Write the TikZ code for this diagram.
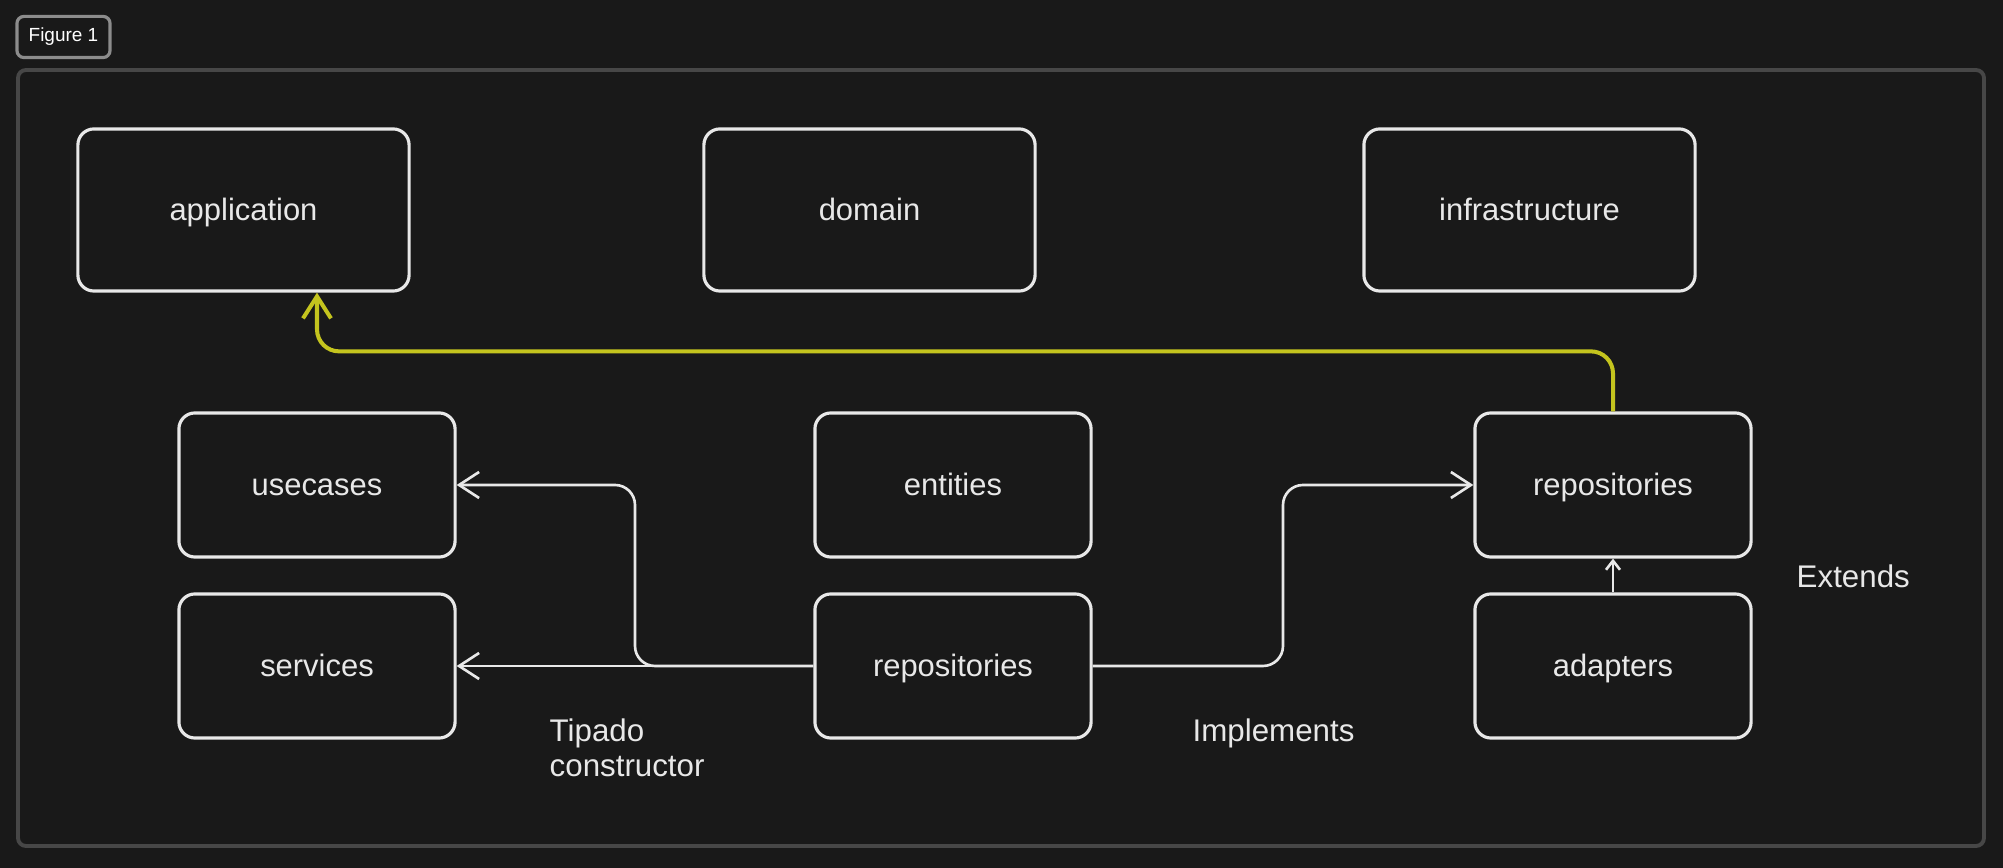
\documentclass[tikz,border=0pt]{standalone}
\usepackage{fontspec}
\setmainfont{Liberation Sans}
\usepackage{xcolor}
\definecolor{bg}{HTML}{191919}
\definecolor{edge}{HTML}{E8E8E8}
\definecolor{focus}{HTML}{C4C41E}
\definecolor{frame}{HTML}{474747}
\definecolor{tag}{HTML}{8C8C8C}
\usetikzlibrary{positioning}
\usetikzlibrary{calc}
\usetikzlibrary{arrows.meta}

\tikzset{
	layer/.style={draw=edge, line width=0.9pt, rounded corners=0.16cm, minimum width=3.31cm, minimum height=1.62cm, text=edge, text height=0.78em, text depth=0.2em, font=\fontsize{8.8}{10}\selectfont},
	part/.style={layer, minimum width=2.76cm, minimum height=1.44cm},
	conn/.style={draw=edge, line width=0.75pt, rounded corners=0.2cm, -{Straight Barb[length=0.2cm,width=0.26cm]}},
	note/.style={text=edge, inner sep=0pt, align=left, font=\fontsize{8.9}{10}\selectfont}
}

\begin{document}
\begin{tikzpicture}[x=0.01cm, y=-0.01cm]
		%background & frame
		\fill[bg] (0,0) rectangle (2003,868);
		\useasboundingbox (0,0) rectangle (2003,868);
		\draw[frame, line width=1.1pt, rounded corners=0.08cm] (18,70) rectangle (1984,846);
		\node[draw=tag, line width=0.9pt, rounded corners=0.07cm, minimum width=0.93cm, minimum height=0.4cm, text=white, font=\fontsize{5.4}{6}\selectfont] (fig) at (63.5,37) {Figure 1};

		%layers
		\node[layer] (app) at (243.5,210) {application};
		\node[layer] (dom) at (869.5,210) {domain};
		\node[layer] (infra) at (1529.5,210) {infrastructure};

		%parts
		\node[part] (uc) at (317,485) {usecases};
		\node[part] (svc) at (317,666) {services};
		\node[part] (ent) at (953,485) {entities};
		\node[part] (repoM) at (953,666) {repositories};
		\node[part] (repoR) at (1613,485) {repositories};
		\node[part] (adp) at (1613,666) {adapters};

		%bends
		\coordinate (midL) at ($(svc.east)!0.5!(repoM.west)$);
		\coordinate (midR) at ($(repoM.east)!0.5!(repoR.west)$);

		%connectors
		\draw[conn] (repoM.west) -- (svc.east);
		\draw[conn] (repoM.west) -- (repoM.west -| midL) |- (uc.east);
		\draw[conn] (repoM.east) -- (repoM.east -| midR) |- (repoR.west);
		\draw[conn, -{Straight Barb[length=0.09cm,width=0.14cm]}] (adp.north) -- (repoR.south);
		\draw[focus, line width=1.15pt, rounded corners=0.22cm, -{Straight Barb[length=0.22cm,width=0.28cm]}] (repoR.north) -- ++(0,-60) -| (app.south -| uc.north);

		%labels
		\node[note, anchor=north west] (typed) at (549,718) {Tipado\\constructor};
		\node[note, anchor=west] (impl) at (1192,733) {Implements};
		\node[note, anchor=west] (ext) at (1796,576) {Extends};
	\end{tikzpicture}
\end{document}
